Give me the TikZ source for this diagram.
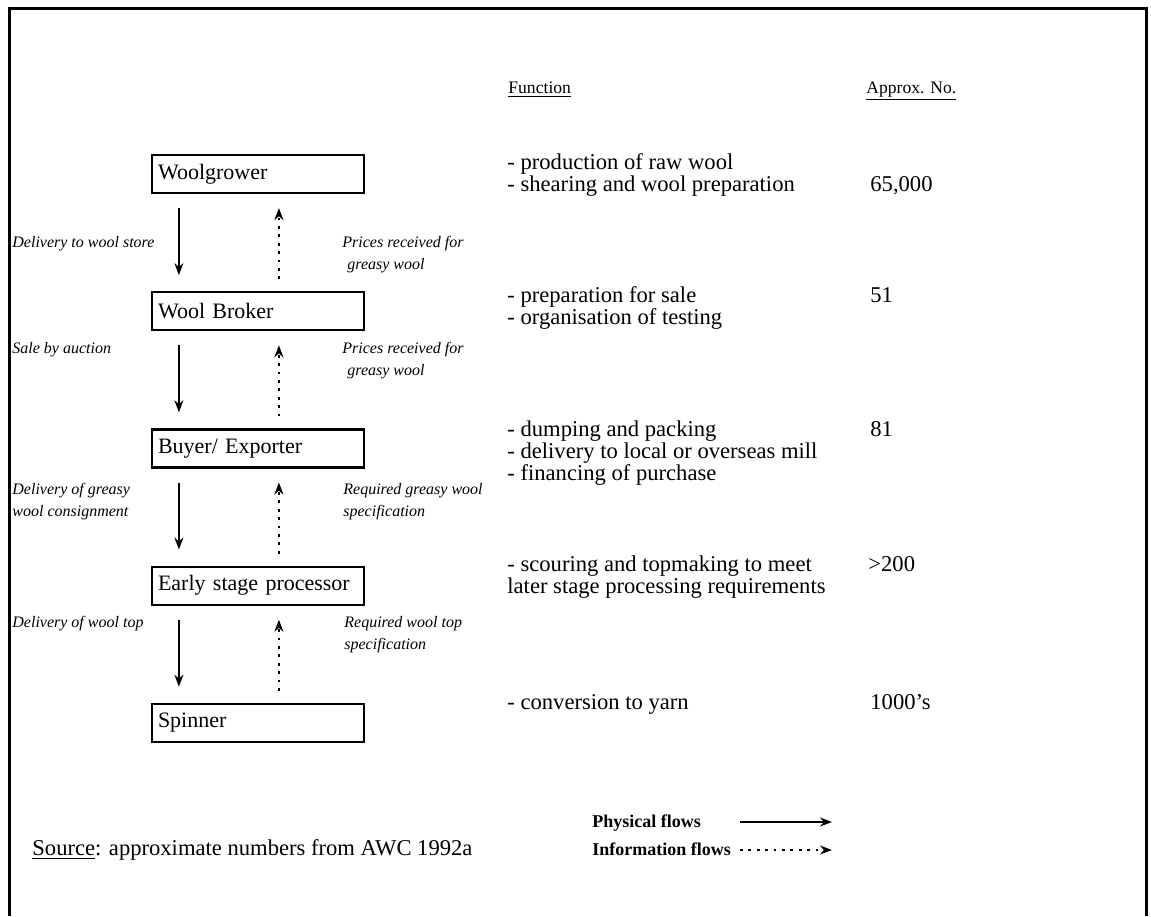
\documentclass[tikz,border=0pt]{standalone}
\usepackage{fontspec}
\setmainfont{Liberation Serif}
\usetikzlibrary{arrows.meta, positioning}

\newcommand{\boxfont}{\fontsize{11}{12}\selectfont}
\newcommand{\funcfont}{\fontsize{11.3}{11}\selectfont}
\newcommand{\flowfont}{\fontsize{8}{11}\selectfont\itshape}
\newcommand{\headfont}{\fontsize{8.8}{10}\selectfont}
\newcommand{\keyfont}{\fontsize{9}{12}\selectfont\bfseries}

\tikzset{
  stage/.style={rectangle, draw, line width=1.1pt, minimum width=106pt,
    minimum height=19pt, text width=100pt, inner xsep=3pt, inner ysep=0pt,
    align=left, font=\boxfont},
  phys/.style={-{Stealth[length=6pt,width=4.5pt]}, line width=0.9pt,
    shorten <=7pt, shorten >=8pt},
  info/.style={-{Stealth[length=6pt,width=4.5pt]}, line width=1.2pt,
    dash pattern=on 1.4pt off 2.8pt, shorten <=6pt, shorten >=7pt},
  flowlbl/.style={anchor=base west, inner sep=0pt, align=left, font=\flowfont},
  functxt/.style={anchor=base west, inner sep=0pt, align=left, font=\funcfont},
  hdr/.style={anchor=base west, inner sep=0pt, font=\headfont},
  keytxt/.style={anchor=base west, inner sep=0pt, font=\keyfont}
}

\begin{document}
\begin{tikzpicture}[x=0.5pt, y=-0.5pt]
  \useasboundingbox (0,0) rectangle (1151,916);
  % open frame, no bottom edge
  \draw[line width=1.5pt] (9,916) -- (9,8) -- (1146,8) -- (1146,916);

  \node[stage] at (258,174) (wg) {Woolgrower};
  \node[stage, below=48.5pt of wg] (wb) {Wool Broker};
  \node[stage, below=48.5pt of wb] (be) {Buyer/ Exporter};
  \node[stage, below=48.5pt of be] (es) {Early stage processor};
  \node[stage, below=48.5pt of es] (sp) {Spinner};

  \draw[phys] ([xshift=14pt]wg.south west) -- ([xshift=14pt]wb.north west);
  \draw[info] ([xshift=64pt]wb.north west) -- ([xshift=64pt]wg.south west);
  \draw[phys] ([xshift=14pt]wb.south west) -- ([xshift=14pt]be.north west);
  \draw[info] ([xshift=64pt]be.north west) -- ([xshift=64pt]wb.south west);
  \draw[phys] ([xshift=14pt]be.south west) -- ([xshift=14pt]es.north west);
  \draw[info] ([xshift=64pt]es.north west) -- ([xshift=64pt]be.south west);
  \draw[phys] ([xshift=14pt]es.south west) -- ([xshift=14pt]sp.north west);
  \draw[info] ([xshift=64pt]sp.north west) -- ([xshift=64pt]es.south west);

  % multi-line labels sit on the baseline of their last line
  \node[flowlbl] at (12,247) (l1) {Delivery to wool store};
  \node[flowlbl] at (342,269) (r1) {Prices received for\\\hspace{2.5pt}greasy wool};
  \node[flowlbl] at (12,353) (l2) {Sale by auction};
  \node[flowlbl] at (342,375) (r2) {Prices received for\\\hspace{2.5pt}greasy wool};
  \node[flowlbl] at (12,516) (l3) {Delivery of greasy\\wool consignment};
  \node[flowlbl] at (343,516) (r3) {Required greasy wool\\specification};
  \node[flowlbl] at (12,627) (l4) {Delivery of wool top};
  \node[flowlbl] at (344,649) (r4) {Required wool top\\specification};

  \node[hdr] at (508,93) (fh) {\underline{Function}};
  \node[hdr] at (866,93) (nh) {\underline{Approx. No.}};

  \node[functxt] at (507,191) (f1) {- production of raw wool\\- shearing and wool preparation};
  \node[functxt] at (870,191) (n1) {65,000};
  \node[functxt] at (507,324) (f2) {- preparation for sale\\- organisation of testing};
  \node[functxt] at (870,302) (n2) {51};
  \node[functxt] at (507,480) (f3) {- dumping and packing\\- delivery to local or overseas mill\\- financing of purchase};
  \node[functxt] at (870,436) (n3) {81};
  \node[functxt] at (507,593) (f4) {- scouring and topmaking to meet\\later stage processing requirements};
  \node[functxt] at (868,571) (n4) {>200};
  \node[functxt] at (507,709) (f5) {- conversion to yarn};
  \node[functxt] at (870,709) (n5) {1000’s};

  \node[functxt] at (32,855) (src) {\underline{Source}: approximate numbers from AWC 1992a};
  \node[keytxt] at (592,827) (kp) {Physical flows};
  \node[keytxt] at (592,855) (ki) {Information flows};
  \coordinate (kp0) at (740,822);
  \coordinate (kp1) at (832,822);
  \coordinate (ki0) at (740,850);
  \coordinate (ki1) at (832,850);
  \draw[phys, shorten <=0pt, shorten >=0pt] (kp0) -- (kp1);
  \draw[info, shorten <=0pt, shorten >=0pt] (ki0) -- (ki1);
\end{tikzpicture}
\end{document}
